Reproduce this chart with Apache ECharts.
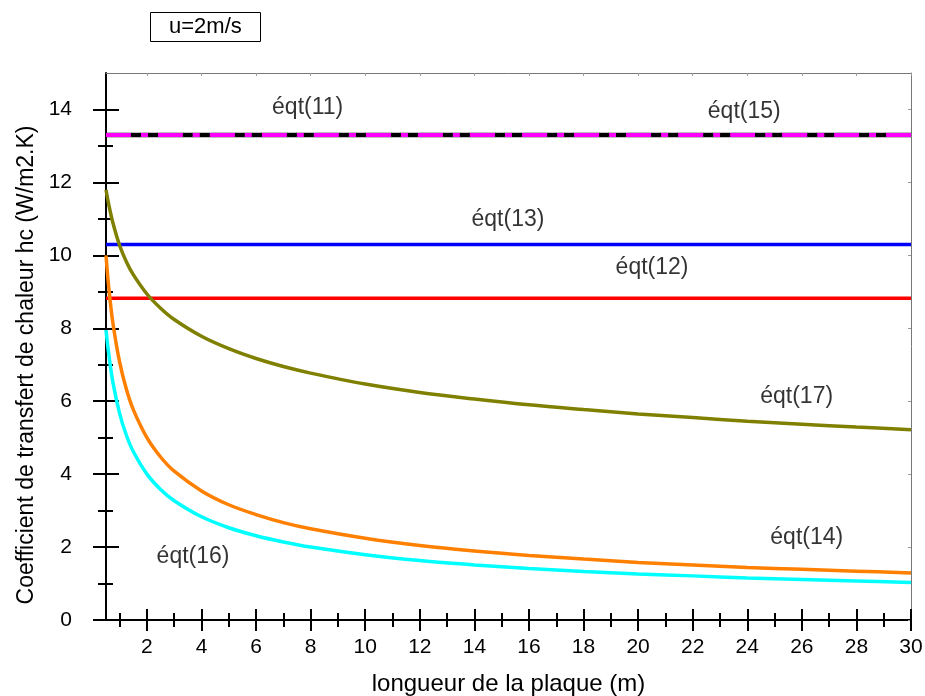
<!DOCTYPE html>
<html>
<head>
<meta charset="utf-8">
<script src="https://cdn.jsdelivr.net/npm/echarts@6/dist/echarts.min.js"></script>
<style>
  html, body { margin: 0; padding: 0; background: #fff; }
  #main { width: 925px; height: 696px; }
</style>
</head>
<body>
<div id="main"></div>
<script>
  // longueur de la plaque (m)
  const xs = [0.5, 0.6, 0.75, 1, 1.25, 1.5, 2, 2.5, 3, 4, 5, 6, 7, 8, 10, 12, 14, 16, 18, 20, 22, 24, 26, 28, 30]
  const eqt17 = [11.8, 11.4, 10.9, 10.27, 9.82, 9.47, 8.94, 8.55, 8.24, 7.78, 7.44, 7.17, 6.95, 6.77, 6.47, 6.24, 6.06, 5.9, 5.77, 5.65, 5.55, 5.45, 5.37, 5.29, 5.22]
  const eqt14 = [10.0, 9.13, 8.16, 7.07, 6.32, 5.77, 5.0, 4.47, 4.08, 3.54, 3.16, 2.89, 2.67, 2.5, 2.24, 2.04, 1.89, 1.77, 1.67, 1.58, 1.51, 1.44, 1.39, 1.34, 1.29]
  const eqt16 = [7.95, 7.3, 6.53, 5.66, 5.06, 4.62, 4.0, 3.58, 3.27, 2.83, 2.53, 2.31, 2.14, 2.0, 1.79, 1.63, 1.51, 1.41, 1.33, 1.26, 1.21, 1.15, 1.11, 1.07, 1.03]
  // constant correlations
  const eqt11 = 13.3
  const eqt15 = 13.3
  const eqt13 = 10.3
  const eqt12 = 8.82

  const xMajor = [2, 4, 6, 8, 10, 12, 14, 16, 18, 20, 22, 24, 26, 28, 30]
  const xMinor = [1, 3, 5, 7, 9, 11, 13, 15, 17, 19, 21, 23, 25, 27, 29]
  const yMajor = [0, 2, 4, 6, 8, 10, 12, 14]
  const yMinor = [1, 3, 5, 7, 9, 11, 13]

  const labelNames = ['éqt(11)', 'éqt(15)', 'éqt(13)', 'éqt(12)', 'éqt(17)', 'éqt(14)', 'éqt(16)']
  const labelX = [7.89, 23.89, 15.23, 20.51, 25.81, 26.18, 3.69]
  const labelY = [14.06, 13.93, 10.97, 9.67, 6.13, 2.25, 1.74]

  const FONT = 'Liberation Sans, Arial, sans-serif'
  const xMin = 0.5
  const xMax = 30

  function pairs (vals) {
    return xs.map((x, i) => [x, vals[i]])
  }
  function flat (v) {
    return [[xs[0], v], [xs[xs.length - 1], v]]
  }

  function tickAxis (dim, pos, values, len, inside, color, width, extra) {
    let ax = {
      type: 'value',
      position: pos,
      min: dim === 'x' ? xMin : 0,
      max: dim === 'x' ? xMax : 15,
      axisLine: { show: false, onZero: false },
      axisTick: { show: true, inside: inside, length: len, customValues: values, lineStyle: { color: color, width: width } },
      axisLabel: { show: false },
      splitLine: { show: false }
    }
    return Object.assign(ax, extra || {})
  }

  let xAxes = [
    tickAxis('x', 'bottom', xMajor, 11, false, '#000', 2, {
      axisLine: { show: true, onZero: false, lineStyle: { color: '#000', width: 2 } },
      axisLabel: { show: true, customValues: xMajor, margin: 17, color: '#000', fontSize: 21, fontFamily: FONT },
      name: 'longueur de la plaque (m)',
      nameLocation: 'middle',
      nameGap: 52,
      nameTextStyle: { color: '#000', fontSize: 24, fontFamily: FONT }
    }),
    tickAxis('x', 'bottom', xMajor, 11, true, '#000', 2),
    tickAxis('x', 'bottom', xMinor, 7, false, '#000', 2),
    tickAxis('x', 'bottom', xMinor, 7, true, '#000', 2),
    tickAxis('x', 'top', xMajor, 3, true, '#999', 1, {
      axisLine: { show: true, onZero: false, lineStyle: { color: '#777', width: 1 } }
    })
  ]

  let yAxes = [
    tickAxis('y', 'left', yMajor, 13, false, '#000', 2, {
      axisLine: { show: true, onZero: false, lineStyle: { color: '#000', width: 2 } },
      axisLabel: { show: true, customValues: yMajor, margin: 34, color: '#000', fontSize: 21, fontFamily: FONT },
      name: 'Coefficient de transfert de chaleur hc (W/m2.K)',
      nameLocation: 'middle',
      nameGap: 66,
      nameTextStyle: { color: '#000', fontSize: 23, fontFamily: FONT, padding: [0, 37, 0, 0] }
    }),
    tickAxis('y', 'left', yMajor, 13, true, '#000', 2),
    tickAxis('y', 'left', yMinor, 8, false, '#000', 2),
    tickAxis('y', 'left', yMinor, 7, true, '#000', 2),
    tickAxis('y', 'right', yMajor, 3, true, '#999', 1, {
      axisLine: { show: true, onZero: false, lineStyle: { color: '#777', width: 1 } }
    })
  ]

  function lineSeries (name, data, color, width, type) {
    return {
      name: name,
      type: 'line',
      data: data,
      smooth: 0.35,
      showSymbol: false,
      symbol: 'none',
      lineStyle: { color: color, width: width, type: type || 'solid', cap: 'butt' },
      z: 3
    }
  }

  let myChart = echarts.init(document.getElementById('main'))
  let option = {
    animation: false,
    backgroundColor: '#fff',
    title: {
      text: 'u=2m/s',
      left: 150,
      top: 12,
      padding: [4, 19],
      borderColor: '#000',
      borderWidth: 1,
      textStyle: { color: '#000', fontSize: 22, fontWeight: 'normal', fontFamily: FONT }
    },
    grid: { left: 106, right: 14, top: 73, bottom: 76, outerBoundsMode: 'none' },
    xAxis: xAxes,
    yAxis: yAxes,
    series: [
      lineSeries('éqt(11)', flat(eqt11), '#000', 4.5),
      lineSeries('éqt(15)', flat(eqt15), '#ff00ff', 4, [25, 10, 7, 10]),
      lineSeries('éqt(13)', flat(eqt13), '#0000ff', 3.5),
      lineSeries('éqt(12)', flat(eqt12), '#ff0000', 3.5),
      lineSeries('éqt(17)', pairs(eqt17), '#808000', 3.5),
      lineSeries('éqt(14)', pairs(eqt14), '#ff8000', 3.5),
      lineSeries('éqt(16)', pairs(eqt16), '#00ffff', 3.5),
      {
        type: 'scatter',
        silent: true,
        symbolSize: 0,
        data: labelNames.map((n, i) => ({ name: n, value: [labelX[i], labelY[i]] })),
        label: {
          show: true,
          position: 'inside',
          formatter: '{b}',
          color: '#000',
          fontSize: 23,
          fontFamily: FONT
        },
        z: 5
      }
    ]
  }
  myChart.setOption(option)
</script>
</body>
</html>
